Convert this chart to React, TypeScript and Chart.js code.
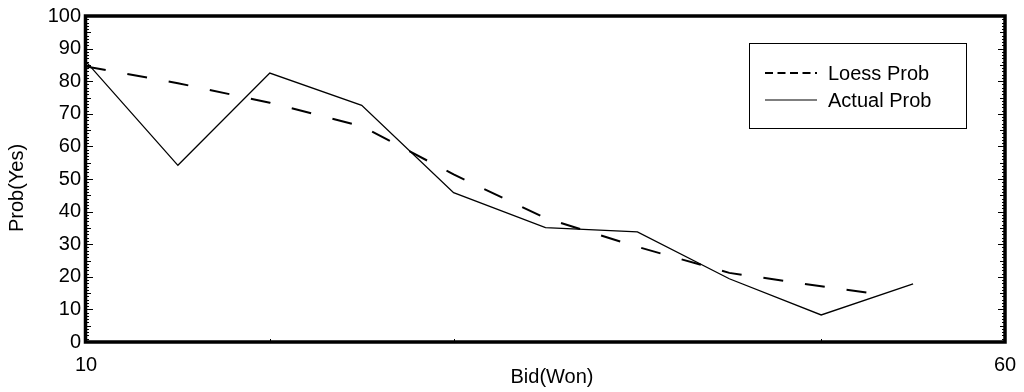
import React, { useEffect, useRef } from 'react';
import { Chart, registerables } from 'chart.js';

Chart.register(...registerables);

const FONT = '"Liberation Sans", Arial, Helvetica, sans-serif';

// Data
const bidValues = [10, 15, 20, 25, 30, 35, 40, 45, 50, 55];
const actualProb = [86, 54.2, 82.5, 72.6, 45.8, 35.1, 33.8, 19.4, 8.3, 17.8];
const loessBids = [10, 15, 20, 25, 30, 35, 40, 45, 50, 53];
const loessProb = [84.5, 79.4, 73.4, 66.2, 51.4, 38, 29.2, 21.2, 17.1, 14.8];
const xTickLabels = [10, 60];
const xMinorTicks = [20, 30, 50];
const yMin = 0;
const yMax = 100;
const yStep = 10;

const seriesLabels = ['Loess Prob', 'Actual Prob'];
const xTitle = 'Bid(Won)';
const yTitle = 'Prob(Yes)';

const framePlugin = {
  id: 'frameAndLegend',
  afterDatasetsDraw(chart: any) {
    const { ctx, chartArea } = chart;
    const { left, right, top, bottom } = chartArea;
    const yScale = chart.scales.y;
    const xScale = chart.scales.x;
    ctx.save();
    ctx.strokeStyle = '#000';
    // minor / major ticks on left and right (inside)
    ctx.lineWidth = 1;
    for (let v = yMin; v <= yMax; v += 1) {
      const py = Math.round(yScale.getPixelForValue(v)) + 0.5;
      let len = 3;
      if (v % 10 === 0) len = 7;
      else if (v % 5 === 0) len = 5;
      ctx.beginPath();
      ctx.moveTo(left, py);
      ctx.lineTo(left + len, py);
      ctx.moveTo(right, py);
      ctx.lineTo(right - len, py);
      ctx.stroke();
    }
    for (const v of xMinorTicks) {
      const px = Math.round(xScale.getPixelForValue(v)) + 0.5;
      ctx.beginPath();
      ctx.moveTo(px, bottom);
      ctx.lineTo(px, bottom - 3);
      ctx.stroke();
    }
    // thick frame
    ctx.lineWidth = 3.5;
    ctx.strokeRect(left - 0.5, top, right - left + 0.5, bottom - top);

    // axis titles
    ctx.fillStyle = '#000';
    ctx.font = `20px ${FONT}`;
    ctx.textAlign = 'center';
    ctx.textBaseline = 'middle';
    ctx.fillText(xTitle, 552, 377);
    ctx.save();
    ctx.translate(17, 188);
    ctx.rotate(-Math.PI / 2);
    ctx.fillText(yTitle, 0, 0);
    ctx.restore();

    // legend box
    const bx = 749.5, by = 43.5, bw = 217, bh = 85;
    ctx.lineWidth = 1;
    ctx.fillStyle = '#fff';
    ctx.fillRect(bx, by, bw, bh);
    ctx.strokeRect(bx, by, bw, bh);
    const rows = [73, 100];
    chart.data.datasets.forEach((ds: any, i: number) => {
      const yy = rows[i];
      ctx.beginPath();
      ctx.lineWidth = ds.borderDash && ds.borderDash.length ? 2 : 1.2;
      ctx.setLineDash(ds.borderDash && ds.borderDash.length ? [8, 4.5] : []);
      ctx.moveTo(765, yy);
      ctx.lineTo(817, yy);
      ctx.stroke();
      ctx.setLineDash([]);
      ctx.fillStyle = '#000';
      ctx.font = `20px ${FONT}`;
      ctx.textBaseline = 'middle';
      ctx.textAlign = 'left';
      ctx.fillText(ds.label, 828, yy + 1);
    });
    ctx.restore();
  },
};

export default function App() {
  const ref = useRef<HTMLCanvasElement | null>(null);
  useEffect(() => {
    if (!ref.current) return;
    const chart = new Chart(ref.current, {
      type: 'line',
      data: {
        datasets: [
          {
            label: seriesLabels[0],
            data: loessBids.map((b, i) => ({ x: b, y: loessProb[i] })),
            borderColor: '#000',
            borderWidth: 2,
            borderDash: [20, 22],
            pointRadius: 0,
            tension: 0,
            fill: false,
          },
          {
            label: seriesLabels[1],
            data: bidValues.map((b, i) => ({ x: b, y: actualProb[i] })),
            borderColor: '#000',
            borderWidth: 1.3,
            pointRadius: 0,
            tension: 0,
            fill: false,
          },
        ],
      },
      options: {
        responsive: false,
        animation: false,
        devicePixelRatio: 1,
        layout: { padding: { top: 16, right: 19, left: 0, bottom: 0 } },
        plugins: {
          legend: { display: false },
          tooltip: { enabled: false },
        },
        scales: {
          x: {
            type: 'linear',
            min: 10,
            max: 60,
            grid: { display: false, drawTicks: false },
            border: { display: false },
            afterBuildTicks: (scale: any) => {
              scale.ticks = xTickLabels.map((v) => ({ value: v }));
            },
            afterFit: (scale: any) => {
              scale.height = 50;
              scale.paddingRight = 0;
              scale.paddingLeft = 0;
            },
            ticks: {
              color: '#000',
              font: { family: FONT, size: 20 },
              padding: 11,
              maxRotation: 0,
              autoSkip: false,
            },
          },
          y: {
            min: yMin,
            max: yMax,
            grid: { display: false, drawTicks: false },
            border: { display: false },
            afterFit: (scale: any) => {
              scale.width = 86;
              scale.paddingTop = 0;
              scale.paddingBottom = 0;
            },
            ticks: {
              stepSize: yStep,
              color: '#000',
              font: { family: FONT, size: 20 },
              padding: 5,
            },
          },
        },
      },
      plugins: [framePlugin],
    });
    return () => chart.destroy();
  }, []);
  return (
    <div style={{ position: 'absolute', left: 0, top: 0, width: 1024, height: 392, background: '#fff' }}>
      <canvas ref={ref} width={1024} height={392} style={{ display: 'block' }} />
    </div>
  );
}
